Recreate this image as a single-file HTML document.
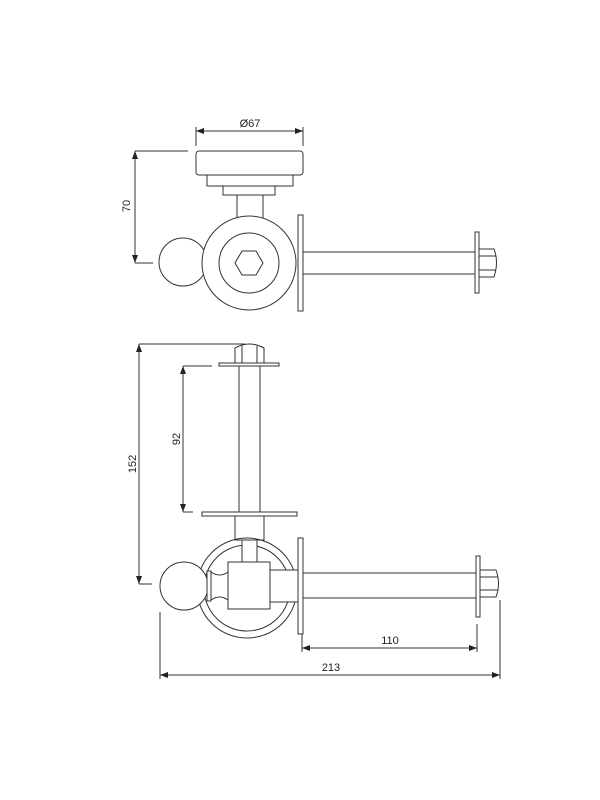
<!DOCTYPE html>
<html><head><style>html,body{margin:0;padding:0;background:#fff;width:600px;height:800px;overflow:hidden}</style></head>
<body>
<svg width="600" height="800" viewBox="0 0 600 800" xmlns="http://www.w3.org/2000/svg">
<defs>
<marker id="a" markerWidth="8" markerHeight="6" refX="8" refY="3" orient="auto-start-reverse" markerUnits="userSpaceOnUse"><path d="M0,0 L8,3 L0,6 z" fill="#222"/></marker>
</defs>
<g fill="none" stroke="#333" stroke-width="1">
<!-- TOP VIEW -->
<line x1="196" y1="131" x2="303" y2="131" marker-start="url(#a)" marker-end="url(#a)"/>
<line x1="196" y1="127" x2="196" y2="146"/>
<line x1="303" y1="127" x2="303" y2="146"/>
<rect x="196" y="151" width="107" height="24" rx="3"/>
<rect x="207" y="175" width="86" height="11"/>
<rect x="223" y="186" width="52" height="9"/>
<line x1="237" y1="195" x2="237" y2="218"/>
<line x1="263" y1="195" x2="263" y2="218"/>
<line x1="135" y1="151" x2="135" y2="263" marker-start="url(#a)" marker-end="url(#a)"/>
<line x1="135" y1="151" x2="188" y2="151"/>
<line x1="135" y1="263" x2="153" y2="263"/>
<circle cx="183" cy="262" r="24" fill="#fff"/>
<circle cx="249" cy="263" r="47" fill="#fff"/>
<circle cx="249" cy="263" r="30"/>
<polygon points="235,263 242,251 256,251 263,263 256,275 242,275"/>
<rect x="298" y="215" width="5" height="96"/>
<rect x="303" y="252" width="172" height="22"/>
<rect x="475" y="232" width="4" height="61"/>
<path d="M479,249 H494 Q499,262 494,277 H479 Z"/>
<line x1="479" y1="256" x2="496" y2="256"/>
<line x1="479" y1="270" x2="496" y2="270"/>
<!-- BOTTOM VIEW -->
<line x1="139" y1="344" x2="139" y2="584" marker-start="url(#a)" marker-end="url(#a)"/>
<line x1="139" y1="344" x2="245" y2="344"/>
<line x1="139" y1="584" x2="152" y2="584"/>
<line x1="183" y1="366" x2="183" y2="512" marker-start="url(#a)" marker-end="url(#a)"/>
<line x1="183" y1="366" x2="212" y2="366"/>
<line x1="183" y1="512" x2="193" y2="512"/>
<path d="M235,363 V348 Q249,340 264,348 V363 Z"/>
<line x1="242" y1="346" x2="242" y2="363"/>
<line x1="257" y1="346" x2="257" y2="363"/>
<rect x="219" y="363" width="60" height="3"/>
<rect x="239" y="366" width="21" height="146"/>
<rect x="202" y="512" width="95" height="4"/>
<rect x="235" y="516" width="29" height="24"/>
<circle cx="247" cy="588" r="50"/>
<circle cx="247" cy="588" r="43"/>
<rect x="242" y="540" width="15" height="24" fill="#fff"/>
<rect x="270" y="570" width="28" height="32" fill="#fff"/>
<circle cx="184" cy="586" r="24" fill="#fff"/>
<rect x="207" y="571" width="4" height="30" fill="#fff"/>
<path d="M211,572 Q220,578 228,572 V600 Q220,594 211,600 Z" fill="#fff"/>
<rect x="228" y="562" width="42" height="47" fill="#fff"/>
<rect x="298" y="538" width="5" height="96" fill="#fff"/>
<rect x="303" y="573" width="173" height="25"/>
<rect x="476" y="556" width="4" height="61"/>
<path d="M480,570 H496 Q501,584 496,597 H480 Z"/>
<line x1="480" y1="577" x2="498" y2="577"/>
<line x1="480" y1="590" x2="498" y2="590"/>
<line x1="302" y1="648" x2="477" y2="648" marker-start="url(#a)" marker-end="url(#a)"/>
<line x1="302" y1="634" x2="302" y2="652"/>
<line x1="477" y1="624" x2="477" y2="652"/>
<line x1="160" y1="675" x2="500" y2="675" marker-start="url(#a)" marker-end="url(#a)"/>
<line x1="160" y1="612" x2="160" y2="679"/>
<line x1="500" y1="600" x2="500" y2="679"/>
</g>
<g font-family="Liberation Sans, sans-serif" font-size="11" fill="#222" text-anchor="middle">
<text x="250" y="127">Ø67</text>
<text transform="translate(130,206) rotate(-90)">70</text>
<text transform="translate(136,464) rotate(-90)">152</text>
<text transform="translate(180,439) rotate(-90)">92</text>
<text x="390" y="644">110</text>
<text x="331" y="671">213</text>
</g>
</svg>
</body></html>
